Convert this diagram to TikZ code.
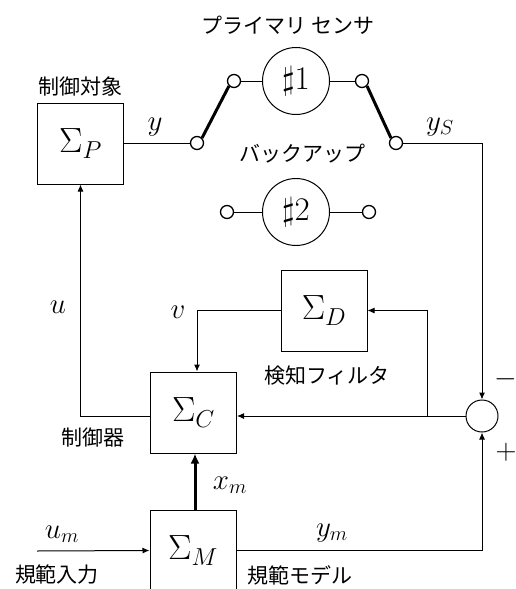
\RequirePackage{fix-cm}
\documentclass[tikz,border=0pt]{standalone}
\usepackage{fontspec}
\newfontfamily\jpfont{Noto Sans CJK JP}
\usetikzlibrary{arrows.meta,calc}
\begin{document}
\begin{tikzpicture}[x=1pt,y=-1pt,
  line width=1pt,
  blk/.style={draw,line width=1pt,minimum width=86pt,minimum height=81pt,inner sep=0pt,font=\fontsize{35}{40}\selectfont},
  sensor/.style={draw,circle,line width=1pt,minimum size=67pt,inner sep=0pt,font=\fontsize{33}{38}\selectfont},
  term/.style={draw,circle,line width=1.3pt,fill=white,minimum size=13pt,inner sep=0pt},
  lab/.style={font=\fontsize{29}{34}\selectfont,inner sep=0pt},
  jp/.style={font=\jpfont\fontsize{21}{25}\selectfont,inner sep=0pt},
  arr/.style={-{Latex[length=7pt,width=6pt]}},
  sw/.style={line width=3pt}]
\useasboundingbox (0,0) rectangle (516,589);
\clip (0,0) rectangle (516,589);

% blocks
\node[blk] (P) at (80.5,143.5) {$\Sigma_P$};
\node[blk] (C) at (193.5,412.5) {$\Sigma_C$};
\node[blk] (D) at (324,310.5) {$\Sigma_D$};
\node[blk] (M) at (193,550.5) {$\Sigma_M$};
\node[draw,circle,line width=1pt,minimum size=32pt,inner sep=0pt] (Sum) at (482,416) {};

% sensors
\node[sensor] (S1) at (296,81) {$\sharp1$};
\node[sensor] (S2) at (296,212) {$\sharp2$};

% switch terminals
\node[term] (s1) at (197,143) {};
\node[term] (s2) at (234,81) {};
\node[term] (s3) at (362,81) {};
\node[term] (s4) at (396,143) {};
\node[term] (t1) at (227,212) {};
\node[term] (t2) at (369,212) {};

\coordinate (c1) at (482,143);
\coordinate (br) at (427,416);
\coordinate (um) at (37,551);

% connections
\draw (P.east |- s1) -- (s1.west);
\draw[sw] (s1.north east) -- (s2.south west);
\draw (s2.east) -- (S1.west);
\draw (S1.east) -- (s3.west);
\draw[sw] (s3.south east) -- (s4.north west);
\draw (s4.east) -- (c1);
\draw[arr] (c1) -- (Sum.north);
\draw (t1.east) -- (S2.west);
\draw (S2.east) -- (t2.west);

\draw[arr] (Sum.west) -- (Sum.west -| C.east);
\draw[arr] (br) |- (D.east);
\draw[arr] (D.west) -| ($(C.north)+(3.5,0)$);
\draw[arr] (C.west |- Sum) -| (P.south);
\draw[line width=3pt,-{Latex[length=10pt,width=9pt]}] ($(M.north)+(2,0)$) -- ($(C.south)+(1.5,0)$);
\draw[arr] (M.east) -| (Sum.south);
\draw[arr] (um) -- (M.west);

% labels
\node[jp] at (288,25) {プライマリ センサ};
\node[jp] at (302,154) {バックアップ};
\node[jp] at (80,87) {制御対象};
\node[jp] at (327,376) {検知フィルタ};
\node[jp] at (93,438) {制御器};
\node[jp] at (57,575) {規範入力};
\node[jp] at (300,575) {規範モデル};

\node[lab] at (155,127) {$y$};
\node[lab] at (440,127) {$y_S$};
\node[lab] at (58,307) {$u$};
\node[lab] at (178,312) {$v$};
\node[lab] at (230,485) {$x_m$};
\node[lab] at (332,533) {$y_m$};
\node[lab] at (62,534) {$u_m$};
\node[lab] at (506,379) {$-$};
\node[lab] at (506,452) {$+$};
\end{tikzpicture}
\end{document}
